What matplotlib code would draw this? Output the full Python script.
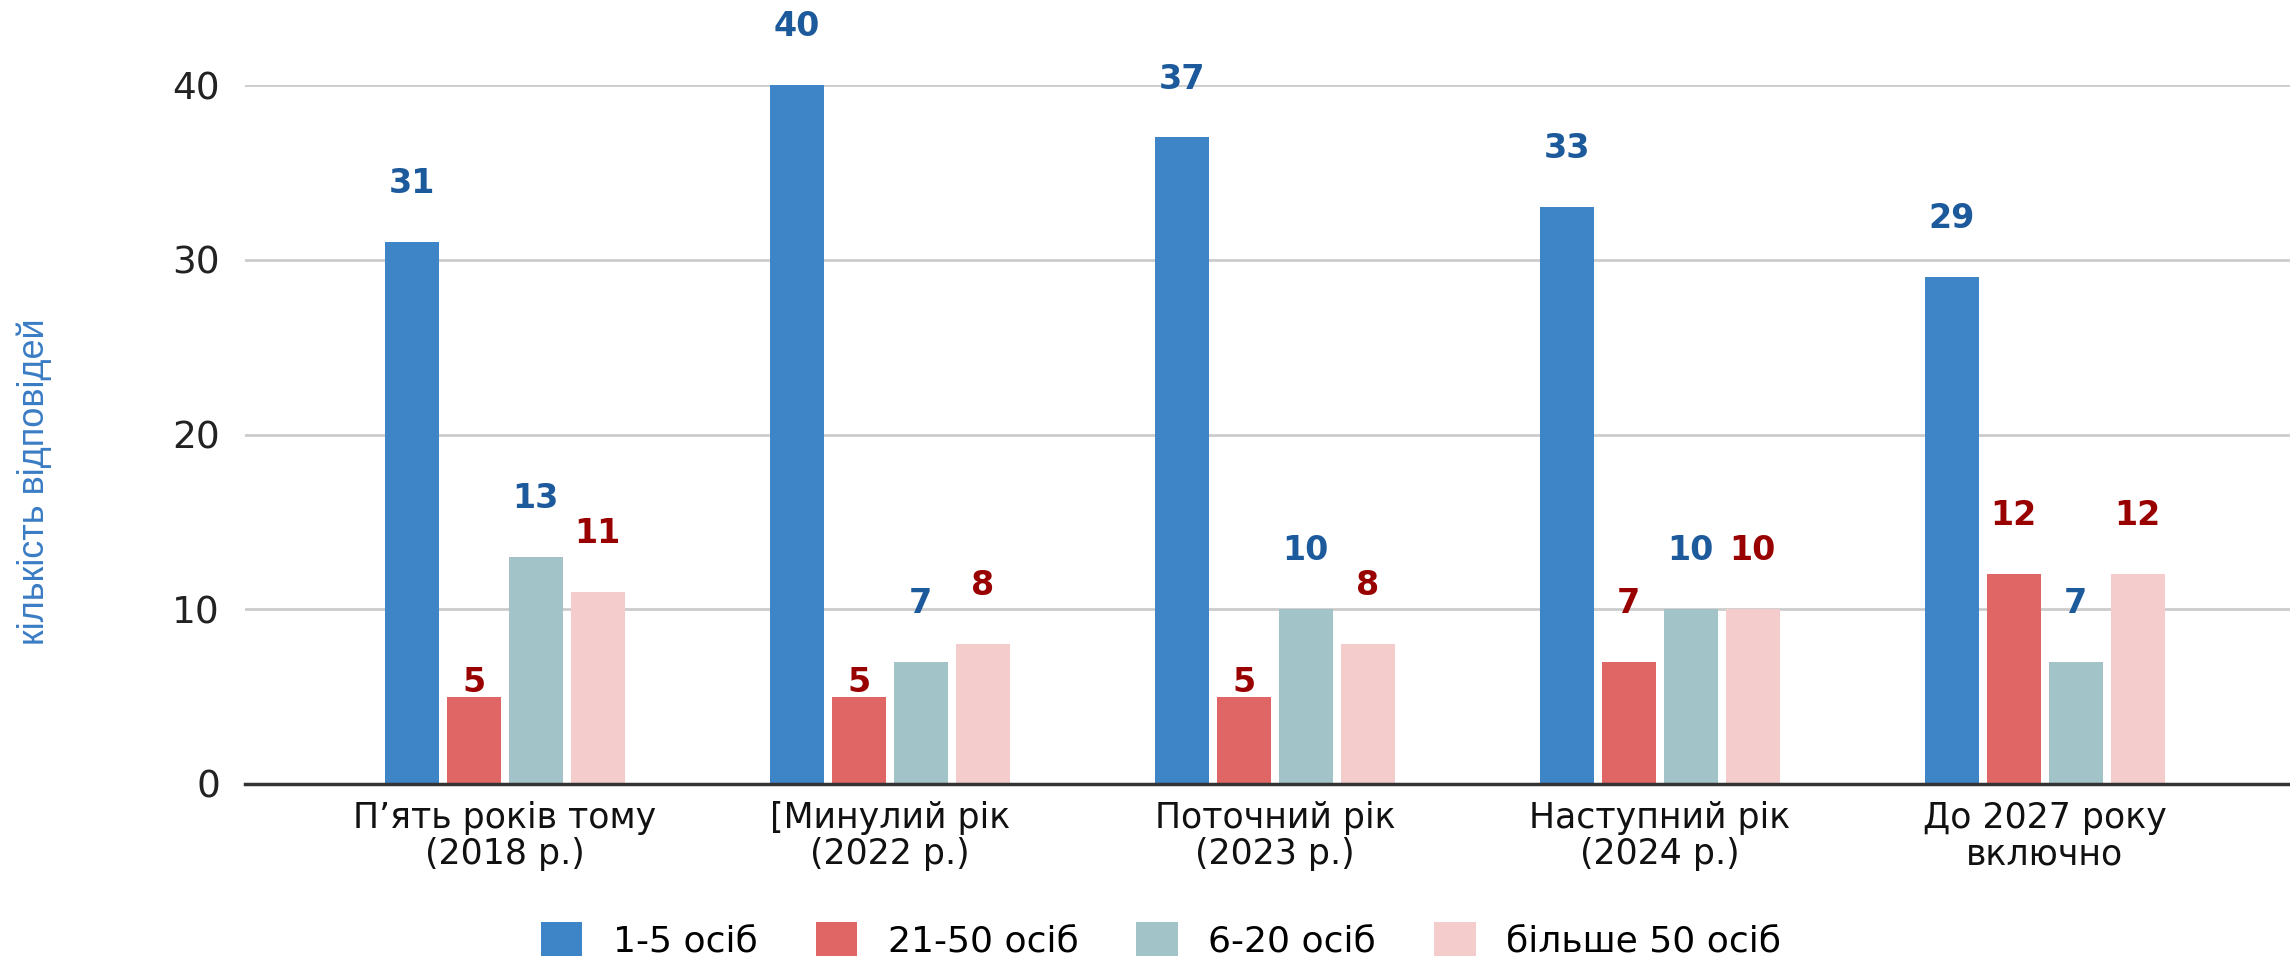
import matplotlib
matplotlib.use("Agg")
import matplotlib.pyplot as plt
import numpy as np

# data
categories = ["П’ять років тому\n(2018 р.)", "[Минулий рік\n(2022 р.)",
              "Поточний рік\n(2023 р.)", "Наступний рік\n(2024 р.)",
              "До 2027 року\nвключно"]
series_names = ["1-5 осіб", "21-50 осіб", "6-20 осіб", "більше 50 осіб"]
v_1_5 = [31, 40, 37, 33, 29]
v_21_50 = [5, 5, 5, 7, 12]
v_6_20 = [13, 7, 10, 10, 7]
v_50plus = [11, 8, 8, 10, 12]
yticks = [0, 10, 20, 30, 40]

bar_colors = ["#3d85c6", "#e06666", "#a2c4c9", "#f4cccc"]
label_colors = ["#1c5a9c", "#990000", "#1c5a9c", "#990000"]

plt.rcParams['font.family'] = ['DejaVu Sans']
fig = plt.figure(figsize=(22.9, 9.58), dpi=100)
ax = fig.add_axes([245/2290, 174/958, 1 - 245/2290, (873-174)/958])

x = np.arange(len(categories))
step = 0.161
width = 0.14
all_vals = [v_1_5, v_21_50, v_6_20, v_50plus]
for i, vals in enumerate(all_vals):
    xs = x + (i - 1.5) * step
    ax.bar(xs, vals, width, color=bar_colors[i], label=series_names[i], zorder=3)
    for xx, v in zip(xs, vals):
        off = 10 if v == 5 else 42
        ax.annotate(str(v), (xx, v), xytext=(0, off), textcoords="offset points",
                    ha="center", va="center", fontsize=24, fontweight="bold",
                    color=label_colors[i], annotation_clip=False)

ax.set_ylim(0, 40)
ax.set_xlim(-0.675, 4.637)
ax.set_yticks(yticks)
ax.set_xticks(x)
ax.set_xticklabels(categories, fontsize=25, linespacing=1.1)
ax.tick_params(axis="y", length=0, labelsize=27, pad=18, labelcolor="#222222")
ax.tick_params(axis="x", length=0, pad=12, labelcolor="#111111")
ax.grid(axis="y", color="#cccccc", linewidth=2, zorder=0)
for s in ["top", "right", "left"]:
    ax.spines[s].set_visible(False)
ax.spines["bottom"].set_color("#333333")
ax.spines["bottom"].set_linewidth(2.5)
ax.spines["bottom"].set_zorder(4)

fig.text(34/2290, 1 - 482/958, "кількість відповідей", rotation=90,
         ha="center", va="center", fontsize=26, color="#3a7cc4",
         family="Liberation Sans")

fig.legend(loc="center", bbox_to_anchor=(1161/2290, 1 - 940/958), ncol=4,
           frameon=False, fontsize=26, handlelength=1.15, handleheight=1.1,
           handletextpad=0.85, columnspacing=1.6)

fig.savefig("out.png", dpi=100)
